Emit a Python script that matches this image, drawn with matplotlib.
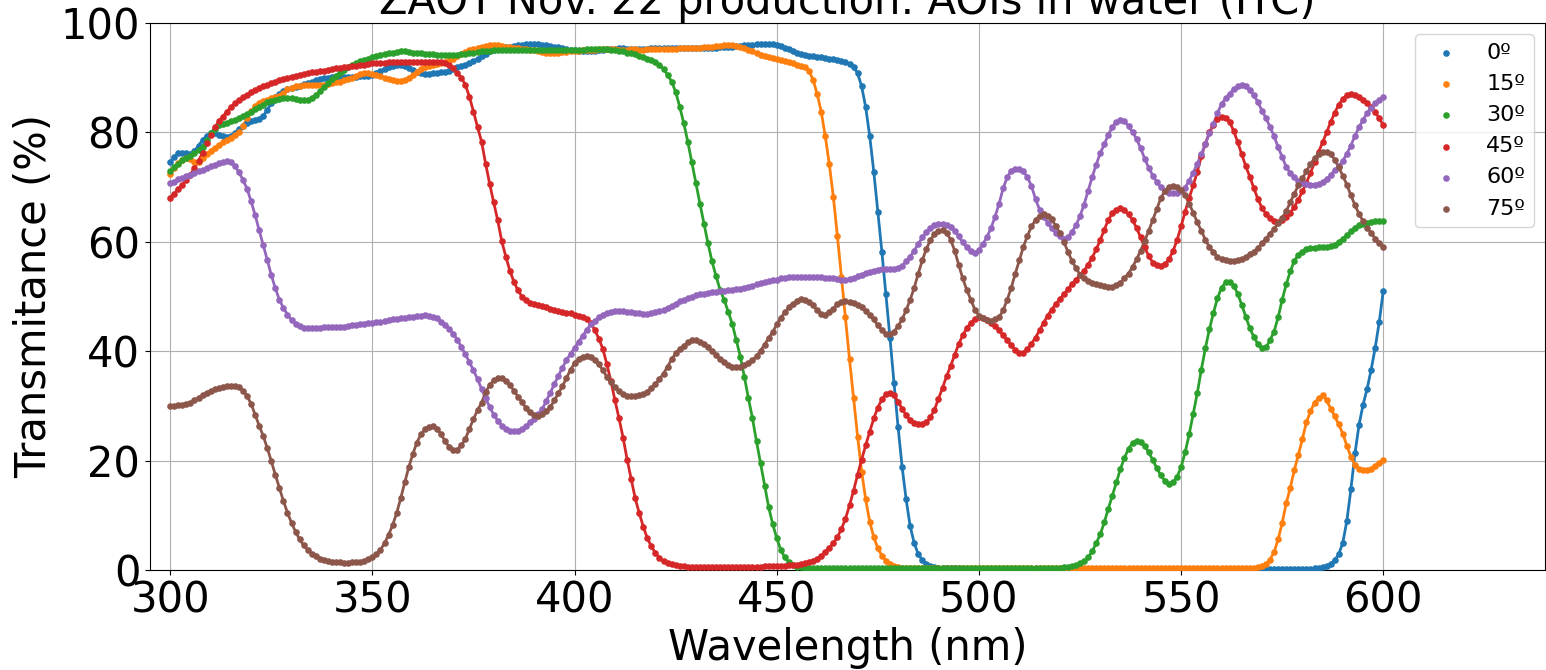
import numpy as np
import matplotlib
matplotlib.use("Agg")
import matplotlib.pyplot as plt

wavelength = list(range(300, 601))

labels = ["0º", "15º", "30º", "45º", "60º", "75º"]

t_0 = [
    74.5, 75.5, 76.2, 76.3, 76.2, 76.0, 76.6, 77.6, 78.6, 79.4,
    79.8, 79.9, 79.6, 79.3, 79.1, 79.3, 79.9, 80.6, 81.2, 81.8,
    82.0, 82.2, 82.5, 83.0, 84.1, 85.4, 86.4, 87.1, 87.6, 87.9,
    88.1, 88.3, 88.5, 88.8, 89.0, 89.2, 89.5, 89.7, 89.9, 90.0,
    90.1, 90.2, 90.2, 90.2, 90.2, 90.2, 90.2, 90.3, 90.3, 90.4,
    90.5, 90.8, 91.2, 91.6, 91.9, 92.1, 92.3, 92.3, 92.1, 91.8,
    91.4, 91.0, 90.8, 90.7, 90.7, 90.8, 90.9, 91.0, 91.1, 91.3,
    91.6, 91.9, 92.2, 92.4, 92.7, 93.0, 93.4, 93.9, 94.4, 94.8,
    95.1, 95.3, 95.5, 95.6, 95.7, 95.8, 95.9, 96.0, 96.1, 96.1,
    96.1, 96.1, 96.0, 95.9, 95.8, 95.7, 95.6, 95.4, 95.3, 95.1,
    95.0, 94.9, 94.9, 94.8, 94.8, 94.9, 95.0, 95.1, 95.2, 95.3,
    95.3, 95.4, 95.4, 95.3, 95.2, 95.2, 95.2, 95.3, 95.3, 95.4,
    95.4, 95.5, 95.5, 95.5, 95.5, 95.4, 95.4, 95.4, 95.4, 95.4,
    95.4, 95.4, 95.4, 95.5, 95.5, 95.5, 95.6, 95.6, 95.7, 95.7,
    95.8, 95.8, 95.9, 96.0, 96.0, 96.1, 96.1, 96.2, 96.2, 96.1,
    96.0, 95.8, 95.5, 95.2, 94.9, 94.6, 94.3, 94.1, 94.0, 93.9,
    93.8, 93.7, 93.6, 93.5, 93.4, 93.2, 93.0, 92.8, 92.5, 92.0,
    90.8, 88.4, 84.6, 79.3, 72.8, 65.5, 58.2, 50.4, 42.5, 34.2,
    26.2, 18.9, 12.9, 8.0, 4.9, 2.9, 1.8, 1.1, 0.7, 0.5,
    0.4, 0.3, 0.3, 0.3, 0.3, 0.3, 0.2, 0.2, 0.2, 0.2,
    0.2, 0.2, 0.2, 0.2, 0.2, 0.2, 0.2, 0.2, 0.2, 0.2,
    0.2, 0.2, 0.2, 0.2, 0.2, 0.2, 0.2, 0.2, 0.2, 0.2,
    0.2, 0.2, 0.2, 0.2, 0.2, 0.2, 0.2, 0.2, 0.2, 0.2,
    0.2, 0.2, 0.2, 0.2, 0.2, 0.2, 0.2, 0.2, 0.2, 0.2,
    0.2, 0.2, 0.2, 0.2, 0.2, 0.2, 0.2, 0.2, 0.2, 0.2,
    0.2, 0.2, 0.2, 0.2, 0.2, 0.2, 0.2, 0.2, 0.2, 0.2,
    0.2, 0.2, 0.2, 0.2, 0.2, 0.2, 0.2, 0.2, 0.2, 0.2,
    0.2, 0.2, 0.2, 0.2, 0.2, 0.2, 0.2, 0.2, 0.2, 0.2,
    0.2, 0.2, 0.2, 0.3, 0.4, 0.5, 0.7, 1.1, 1.8, 2.9,
    5.0, 9.0, 14.8, 21.3, 26.5, 30.2, 33.1, 36.6, 40.6, 45.3,
    51.0,
]

t_15 = [
    72.4, 73.5, 74.4, 75.0, 75.3, 75.2, 74.6, 74.6, 75.3, 76.0,
    76.6, 77.2, 77.7, 78.2, 78.6, 79.0, 79.5, 80.0, 81.2, 82.6,
    83.9, 84.8, 85.3, 85.7, 86.0, 86.3, 86.5, 86.6, 87.2, 87.9,
    88.2, 88.4, 88.5, 88.6, 88.7, 88.7, 88.7, 88.7, 88.7, 88.8,
    89.0, 89.2, 89.3, 89.5, 89.7, 90.0, 90.3, 90.6, 90.8, 90.8,
    90.7, 90.5, 90.3, 90.0, 89.8, 89.6, 89.4, 89.4, 89.6, 90.0,
    90.5, 91.0, 91.5, 91.9, 92.1, 92.3, 92.5, 92.7, 92.9, 93.2,
    93.5, 93.9, 94.3, 94.7, 95.0, 95.2, 95.5, 95.7, 95.8, 95.9,
    95.9, 95.9, 95.8, 95.7, 95.6, 95.5, 95.4, 95.3, 95.2, 95.1,
    95.0, 94.8, 94.7, 94.6, 94.5, 94.5, 94.6, 94.7, 94.7, 94.8,
    94.9, 94.9, 95.0, 95.0, 95.1, 95.1, 95.2, 95.2, 95.2, 95.2,
    95.2, 95.1, 95.1, 95.1, 95.2, 95.2, 95.1, 95.1, 95.2, 95.2,
    95.2, 95.2, 95.2, 95.3, 95.3, 95.3, 95.4, 95.4, 95.4, 95.5,
    95.5, 95.5, 95.6, 95.6, 95.7, 95.8, 95.8, 95.9, 95.9, 95.9,
    95.8, 95.6, 95.4, 95.1, 94.8, 94.5, 94.2, 93.9, 93.7, 93.6,
    93.4, 93.3, 93.1, 92.9, 92.6, 92.3, 92.1, 92.0, 91.2, 89.6,
    87.0, 83.8, 79.3, 74.2, 68.2, 61.1, 53.6, 46.2, 38.5, 31.4,
    24.4, 18.0, 12.9, 8.8, 6.0, 4.0, 2.6, 1.7, 1.1, 0.7,
    0.5, 0.4, 0.3, 0.3, 0.3, 0.3, 0.3, 0.3, 0.3, 0.3,
    0.3, 0.3, 0.3, 0.3, 0.3, 0.3, 0.3, 0.3, 0.3, 0.3,
    0.3, 0.3, 0.3, 0.3, 0.3, 0.3, 0.3, 0.3, 0.3, 0.3,
    0.3, 0.3, 0.3, 0.3, 0.3, 0.3, 0.3, 0.3, 0.3, 0.3,
    0.3, 0.3, 0.3, 0.3, 0.3, 0.3, 0.3, 0.3, 0.3, 0.3,
    0.3, 0.3, 0.3, 0.3, 0.3, 0.3, 0.3, 0.3, 0.3, 0.3,
    0.3, 0.3, 0.3, 0.3, 0.3, 0.3, 0.3, 0.3, 0.3, 0.3,
    0.3, 0.3, 0.3, 0.3, 0.3, 0.3, 0.3, 0.3, 0.3, 0.3,
    0.3, 0.3, 0.3, 0.3, 0.3, 0.3, 0.3, 0.4, 0.4, 0.5,
    0.7, 1.1, 1.9, 3.3, 5.6, 8.6, 12.2, 15.0, 18.3, 21.0,
    24.0, 27.0, 29.0, 30.6, 31.4, 32.0, 31.0, 29.5, 28.1, 26.6,
    24.9, 22.7, 20.7, 19.2, 18.5, 18.2, 18.2, 18.5, 19.1, 19.6,
    20.2,
]

t_30 = [
    72.9, 73.6, 74.3, 74.9, 75.3, 75.7, 76.2, 76.8, 77.4, 78.6,
    79.8, 80.7, 81.3, 81.6, 81.8, 82.0, 82.3, 82.6, 83.0, 83.3,
    83.7, 84.2, 84.7, 85.1, 85.5, 85.8, 86.0, 86.1, 86.2, 86.2,
    86.2, 86.1, 86.0, 85.9, 86.0, 86.3, 86.8, 87.5, 88.3, 89.1,
    89.8, 90.4, 90.9, 91.4, 91.9, 92.3, 92.7, 93.0, 93.3, 93.5,
    93.8, 94.0, 94.2, 94.4, 94.5, 94.6, 94.7, 94.8, 94.8, 94.7,
    94.6, 94.6, 94.5, 94.4, 94.3, 94.3, 94.2, 94.2, 94.1, 94.1,
    94.1, 94.2, 94.3, 94.4, 94.5, 94.6, 94.7, 94.8, 94.9, 94.9,
    95.0, 95.0, 95.1, 95.1, 95.1, 95.1, 95.1, 95.1, 95.1, 95.1,
    95.1, 95.1, 95.1, 95.1, 95.1, 95.1, 95.1, 95.1, 95.1, 95.1,
    95.1, 95.1, 95.1, 95.2, 95.2, 95.2, 95.2, 95.2, 95.2, 95.1,
    95.0, 94.9, 94.8, 94.6, 94.5, 94.3, 94.0, 93.8, 93.5, 93.3,
    92.9, 92.3, 91.6, 90.5, 89.3, 87.4, 84.7, 81.7, 78.3, 74.5,
    70.8, 67.0, 63.3, 59.7, 56.4, 53.7, 51.2, 49.4, 47.2, 45.0,
    42.0, 39.0, 35.3, 31.4, 27.7, 23.5, 19.5, 15.4, 11.5, 8.4,
    5.8, 3.7, 2.3, 1.4, 0.9, 0.6, 0.5, 0.4, 0.4, 0.4,
    0.3, 0.3, 0.3, 0.3, 0.3, 0.3, 0.3, 0.3, 0.3, 0.3,
    0.3, 0.3, 0.3, 0.3, 0.3, 0.3, 0.3, 0.3, 0.3, 0.3,
    0.3, 0.3, 0.3, 0.3, 0.3, 0.3, 0.3, 0.3, 0.3, 0.3,
    0.3, 0.3, 0.3, 0.3, 0.3, 0.3, 0.3, 0.3, 0.3, 0.3,
    0.3, 0.3, 0.3, 0.3, 0.3, 0.3, 0.3, 0.3, 0.3, 0.3,
    0.3, 0.3, 0.3, 0.3, 0.3, 0.3, 0.3, 0.3, 0.3, 0.3,
    0.4, 0.5, 0.6, 0.7, 0.9, 1.2, 1.6, 2.3, 3.4, 4.9,
    6.5, 8.7, 11.2, 13.6, 16.0, 18.5, 20.5, 22.2, 23.2, 23.6,
    23.4, 22.7, 21.5, 20.1, 18.6, 17.3, 16.3, 15.8, 16.0, 17.0,
    18.8, 21.5, 24.8, 28.5, 32.3, 36.6, 40.5, 44.0, 47.0, 49.7,
    51.6, 52.6, 52.6, 52.0, 50.5, 48.5, 46.3, 44.2, 42.6, 41.3,
    40.6, 40.7, 42.0, 43.6, 46.2, 49.4, 52.2, 54.6, 56.5, 57.6,
    58.2, 58.6, 58.8, 58.9, 59.0, 59.0, 59.1, 59.2, 59.5, 60.0,
    60.6, 61.2, 61.9, 62.6, 63.0, 63.3, 63.5, 63.7, 63.8, 63.8,
    63.8,
]

t_45 = [
    68.0, 68.8, 69.6, 70.4, 71.3, 72.3, 73.5, 74.8, 76.3, 78.0,
    79.6, 80.9, 82.0, 82.9, 83.8, 84.6, 85.3, 85.9, 86.4, 86.9,
    87.3, 87.7, 88.1, 88.4, 88.7, 89.0, 89.3, 89.6, 89.8, 90.0,
    90.2, 90.4, 90.5, 90.7, 90.8, 91.0, 91.1, 91.2, 91.3, 91.4,
    91.5, 91.7, 91.8, 91.9, 92.0, 92.1, 92.2, 92.3, 92.4, 92.5,
    92.6, 92.6, 92.7, 92.7, 92.8, 92.8, 92.8, 92.9, 92.9, 92.9,
    92.9, 92.9, 92.9, 92.9, 92.9, 92.9, 92.9, 92.8, 92.6, 92.3,
    91.7, 90.9, 90.0, 88.7, 86.5, 83.8, 81.0, 78.3, 74.3, 70.6,
    67.2, 63.9, 60.1, 57.3, 54.7, 52.7, 51.1, 50.0, 49.3, 48.9,
    48.6, 48.4, 48.2, 48.0, 47.8, 47.6, 47.4, 47.2, 47.0, 46.9,
    46.7, 46.5, 46.2, 45.8, 45.1, 43.9, 42.3, 40.4, 37.6, 34.5,
    31.0, 27.7, 24.2, 20.2, 16.6, 13.1, 10.4, 7.9, 5.8, 4.3,
    3.1, 2.2, 1.6, 1.3, 1.1, 0.9, 0.8, 0.7, 0.6, 0.6,
    0.6, 0.6, 0.6, 0.6, 0.6, 0.6, 0.6, 0.6, 0.6, 0.6,
    0.6, 0.6, 0.6, 0.6, 0.6, 0.6, 0.6, 0.7, 0.7, 0.7,
    0.8, 0.8, 0.8, 0.9, 0.9, 1.0, 1.1, 1.2, 1.4, 1.7,
    2.1, 2.6, 3.3, 4.1, 4.9, 6.0, 7.5, 9.4, 11.8, 14.5,
    17.4, 20.2, 22.8, 25.3, 27.7, 29.7, 31.2, 32.1, 32.4, 32.0,
    30.8, 29.5, 28.3, 27.4, 26.9, 26.6, 26.6, 27.0, 27.9, 29.3,
    31.3, 33.3, 35.4, 37.3, 39.3, 41.3, 42.9, 44.2, 45.2, 45.9,
    46.2, 46.1, 45.7, 45.2, 44.6, 43.8, 42.9, 42.0, 41.1, 40.2,
    39.7, 39.7, 40.4, 41.4, 42.5, 43.8, 45.2, 46.5, 47.6, 48.6,
    49.5, 50.4, 51.3, 52.2, 53.1, 53.9, 54.7, 55.8, 57.1, 58.6,
    60.3, 62.2, 64.0, 65.2, 65.9, 66.1, 65.8, 65.0, 64.0, 62.5,
    60.8, 59.0, 57.4, 56.2, 55.7, 55.6, 55.9, 56.8, 58.3, 60.3,
    62.8, 65.5, 68.0, 70.3, 72.8, 75.6, 77.9, 80.0, 81.4, 82.4,
    82.8, 82.7, 81.9, 80.3, 78.2, 76.0, 73.8, 71.9, 69.8, 67.8,
    66.2, 65.1, 64.3, 63.8, 63.7, 63.9, 64.5, 65.3, 66.4, 67.7,
    69.2, 70.8, 72.6, 74.5, 76.4, 78.2, 80.0, 81.9, 83.6, 85.1,
    86.1, 86.8, 87.0, 86.9, 86.5, 86.0, 85.3, 84.6, 83.7, 82.6,
    81.3,
]

t_60 = [
    70.7, 71.0, 71.4, 71.7, 72.0, 72.3, 72.6, 72.9, 73.2, 73.5,
    73.8, 74.1, 74.4, 74.6, 74.7, 74.5, 73.9, 72.7, 71.3, 69.7,
    67.4, 64.9, 62.1, 59.4, 56.7, 53.9, 51.5, 49.4, 47.9, 46.7,
    45.7, 45.0, 44.6, 44.3, 44.2, 44.2, 44.3, 44.3, 44.4, 44.4,
    44.4, 44.4, 44.5, 44.5, 44.6, 44.7, 44.8, 44.9, 45.0, 45.1,
    45.2, 45.3, 45.4, 45.5, 45.7, 45.8, 45.9, 46.0, 46.1, 46.2,
    46.3, 46.4, 46.5, 46.6, 46.5, 46.3, 46.0, 45.4, 44.8, 44.1,
    43.2, 42.1, 40.8, 39.4, 38.0, 36.5, 34.9, 33.1, 31.4, 29.8,
    28.4, 27.3, 26.4, 25.8, 25.5, 25.4, 25.5, 25.8, 26.3, 27.0,
    27.6, 28.5, 29.4, 30.9, 32.4, 34.0, 35.5, 37.0, 38.4, 39.5,
    40.6, 41.7, 42.8, 43.9, 44.9, 45.6, 46.2, 46.7, 47.0, 47.2,
    47.4, 47.4, 47.3, 47.2, 47.1, 47.0, 46.9, 46.8, 46.8, 46.9,
    47.1, 47.3, 47.6, 47.9, 48.3, 48.7, 49.1, 49.4, 49.7, 50.0,
    50.2, 50.4, 50.5, 50.7, 50.8, 50.9, 51.0, 51.0, 51.1, 51.2,
    51.3, 51.4, 51.6, 51.8, 52.0, 52.2, 52.4, 52.6, 52.8, 53.0,
    53.1, 53.3, 53.4, 53.5, 53.5, 53.6, 53.6, 53.6, 53.6, 53.5,
    53.5, 53.5, 53.4, 53.3, 53.3, 53.2, 53.1, 53.1, 53.2, 53.4,
    53.7, 54.0, 54.3, 54.5, 54.7, 54.9, 55.0, 55.0, 55.0, 55.0,
    55.2, 55.6, 56.4, 57.3, 58.4, 59.6, 60.8, 61.8, 62.5, 63.0,
    63.3, 63.3, 63.1, 62.7, 62.0, 61.0, 59.9, 59.0, 58.3, 58.0,
    58.5, 59.6, 60.9, 62.5, 64.6, 67.0, 69.8, 71.8, 73.0, 73.4,
    73.3, 72.9, 71.8, 70.2, 67.8, 65.9, 64.6, 63.5, 62.5, 61.7,
    61.0, 60.6, 60.8, 61.8, 63.0, 64.7, 66.8, 69.3, 71.8, 74.1,
    76.2, 77.8, 79.6, 81.0, 81.9, 82.3, 82.0, 81.2, 80.0, 78.8,
    77.1, 75.2, 73.5, 72.1, 70.9, 70.0, 69.3, 69.0, 68.9, 69.0,
    69.3, 69.9, 71.2, 72.6, 74.3, 76.0, 77.9, 79.8, 81.6, 83.5,
    85.2, 86.2, 87.1, 87.9, 88.4, 88.6, 88.4, 87.7, 86.8, 85.5,
    84.0, 82.6, 81.0, 79.3, 77.3, 75.5, 73.7, 72.6, 71.8, 71.1,
    70.7, 70.5, 70.4, 70.4, 70.6, 71.0, 71.5, 72.2, 73.1, 73.8,
    74.8, 76.1, 77.6, 79.4, 80.9, 82.3, 83.5, 84.5, 85.3, 85.9,
    86.5,
]

t_75 = [
    29.9, 30.0, 30.1, 30.2, 30.3, 30.6, 31.0, 31.5, 32.0, 32.4,
    32.7, 33.0, 33.2, 33.4, 33.6, 33.7, 33.7, 33.4, 32.8, 31.8,
    30.4, 28.4, 26.4, 24.5, 22.3, 19.9, 17.4, 15.0, 12.6, 10.5,
    8.6, 7.0, 5.6, 4.5, 3.7, 3.0, 2.5, 2.1, 1.8, 1.6,
    1.5, 1.4, 1.4, 1.3, 1.3, 1.4, 1.4, 1.5, 1.7, 2.0,
    2.3, 2.9, 3.7, 4.9, 6.4, 8.2, 10.4, 13.1, 16.0, 18.8,
    21.2, 23.3, 24.8, 25.7, 26.2, 26.3, 25.8, 24.8, 23.5, 22.5,
    22.0, 22.0, 22.8, 24.0, 25.8, 27.6, 29.2, 30.6, 32.5, 33.8,
    34.7, 35.1, 35.1, 34.6, 33.8, 32.8, 31.7, 30.7, 29.6, 28.8,
    28.3, 28.2, 28.5, 29.0, 29.8, 31.0, 32.3, 33.6, 35.1, 36.6,
    37.8, 38.6, 39.0, 39.1, 38.9, 38.4, 37.6, 36.5, 35.3, 34.3,
    33.4, 32.7, 32.2, 31.9, 31.8, 31.9, 32.0, 32.1, 32.6, 33.2,
    34.0, 34.9, 35.9, 37.2, 38.5, 39.6, 40.4, 41.0, 41.6, 42.0,
    42.0, 41.7, 41.3, 40.7, 40.1, 39.3, 38.5, 38.0, 37.5, 37.2,
    37.1, 37.2, 37.4, 37.8, 38.3, 39.1, 40.1, 41.2, 42.4, 43.5,
    44.9, 46.1, 47.1, 48.0, 48.7, 49.2, 49.5, 49.4, 49.0, 48.4,
    47.5, 46.8, 46.7, 47.1, 47.8, 48.6, 49.0, 49.1, 49.0, 48.8,
    48.5, 48.0, 47.3, 46.6, 45.8, 44.7, 43.9, 43.2, 43.1, 43.6,
    44.6, 45.8, 47.5, 49.4, 51.6, 54.2, 56.6, 58.7, 60.3, 61.4,
    62.0, 62.2, 61.7, 60.4, 58.4, 55.8, 53.3, 51.2, 49.4, 47.6,
    46.5, 46.0, 45.7, 45.6, 45.8, 46.2, 47.5, 49.4, 51.6, 54.2,
    56.6, 59.1, 61.1, 62.8, 64.0, 64.8, 65.0, 64.8, 64.1, 62.9,
    61.6, 60.0, 58.2, 56.5, 55.2, 54.0, 53.3, 52.8, 52.4, 52.2,
    52.1, 51.9, 51.7, 51.8, 52.1, 52.5, 53.4, 54.2, 55.4, 56.8,
    58.4, 60.2, 62.0, 64.0, 66.0, 68.0, 69.3, 70.0, 70.2, 70.0,
    69.5, 68.5, 67.0, 65.3, 63.6, 62.0, 60.4, 59.0, 58.1, 57.3,
    56.9, 56.6, 56.5, 56.5, 56.6, 56.8, 57.2, 57.7, 58.2, 58.9,
    59.7, 60.6, 61.5, 62.4, 63.4, 64.4, 65.6, 67.2, 68.8, 70.3,
    71.6, 72.9, 74.2, 75.3, 76.1, 76.5, 76.5, 76.1, 75.0, 73.6,
    72.1, 70.4, 68.5, 66.7, 65.1, 63.8, 62.6, 61.6, 60.6, 59.8,
    59.1,
]

series = [t_0, t_15, t_30, t_45, t_60, t_75]
colors = ["#1f77b4", "#ff7f0e", "#2ca02c", "#d62728", "#9467bd", "#8c564b"]

fig = plt.figure(figsize=(15.46, 6.70), dpi=100)
ax = fig.add_axes([150 / 1546, 100 / 670, 1395 / 1546, 547 / 670])

for vals, col, lab in zip(series, colors, labels):
    ax.plot(wavelength, vals, color=col, lw=2)
    ax.scatter(wavelength, vals, s=14, color=col, label=lab, zorder=3)

ax.set_xlim(295, 640)
ax.set_ylim(0, 100)
ax.set_xticks([300, 350, 400, 450, 500, 550, 600])
ax.set_yticks([0, 20, 40, 60, 80, 100])
ax.tick_params(labelsize=30)
ax.grid(True)
ax.set_axisbelow(True)
ax.set_xlabel("Wavelength (nm)", fontsize=30)
ax.set_ylabel("Transmitance (%)", fontsize=30)
ax.set_title("ZAOT Nov. 22 production: AOIs in water (ITC)", fontsize=30)
ax.legend(loc="upper right", fontsize=16)

fig.savefig("out.png", dpi=100)
